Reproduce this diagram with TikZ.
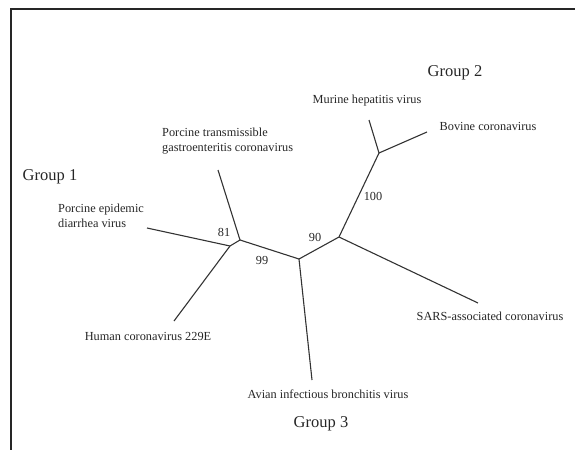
\documentclass[tikz,border=0pt]{standalone}
\usepackage{fontspec}
\setmainfont{Liberation Serif}
\begin{document}
\begin{tikzpicture}[x=1pt,y=-1pt,
  branch/.style={draw=black!80, line width=1.1pt},
  lbl/.style={font=\fontsize{12.3}{14.8}\selectfont, text=black!85, inner sep=0pt},
  grp/.style={font=\fontsize{16.5}{19}\selectfont, text=black!85, inner sep=0pt},
  frame/.style={draw=black!85, line width=1.2pt}]
\useasboundingbox (0,0) rectangle (575,450);
% frame (top and left edges visible)
\coordinate (ftr) at (575,9);
\coordinate (ftl) at (11,9);
\coordinate (fbl) at (11,450);
\draw[frame] (ftr) -- (ftl) -- (fbl);
% internal nodes
\coordinate (a1) at (230,246);
\coordinate (a2) at (240,240);
\coordinate (b) at (299,259);
\coordinate (c) at (339,237);
\coordinate (d) at (379,153);
% leaf ends
\coordinate (pedv) at (147,228);
\coordinate (tgev) at (218,170);
\coordinate (hcov) at (174,321);
\coordinate (ibv) at (312,380);
\coordinate (sars) at (478,303);
\coordinate (mhv) at (369,120);
\coordinate (bcov) at (427,132);
% branches
\draw[branch] (pedv) -- (a1);
\draw[branch] (hcov) -- (a1);
\draw[branch] (a1) -- (a2);
\draw[branch] (tgev) -- (a2);
\draw[branch] (a2) -- (b);
\draw[branch] (b) -- (ibv);
\draw[branch] (b) -- (c);
\draw[branch] (c) -- (sars);
\draw[branch] (c) -- (d);
\draw[branch] (d) -- (mhv);
\draw[branch] (d) -- (bcov);
% labels
\node[grp] (g1) at (50,177) {Group 1};
\node[grp] (g2) at (455,73) {Group 2};
\node[grp] (g3) at (321,424) {Group 3};
\node[lbl, anchor=west, align=left] (tpedv) at (58,216) {Porcine epidemic\\diarrhea virus};
\node[lbl, anchor=west, align=left] (ttgev) at (162,141) {Porcine transmissible\\gastroenteritis coronavirus};
\node[lbl] (thcov) at (148,336) {Human coronavirus 229E};
\node[lbl] (tibv) at (328,394) {Avian infectious bronchitis virus};
\node[lbl] (tsars) at (490,316) {SARS-associated coronavirus};
\node[lbl] (tmhv) at (367,101) {Murine hepatitis virus};
\node[lbl] (tbcov) at (488,126) {Bovine coronavirus};
% bootstrap values
\node[lbl] (b81) at (224,232) {81};
\node[lbl] (b99) at (262,260) {99};
\node[lbl] (b90) at (315,237) {90};
\node[lbl] (b100) at (373,196) {100};
\end{tikzpicture}
\end{document}
